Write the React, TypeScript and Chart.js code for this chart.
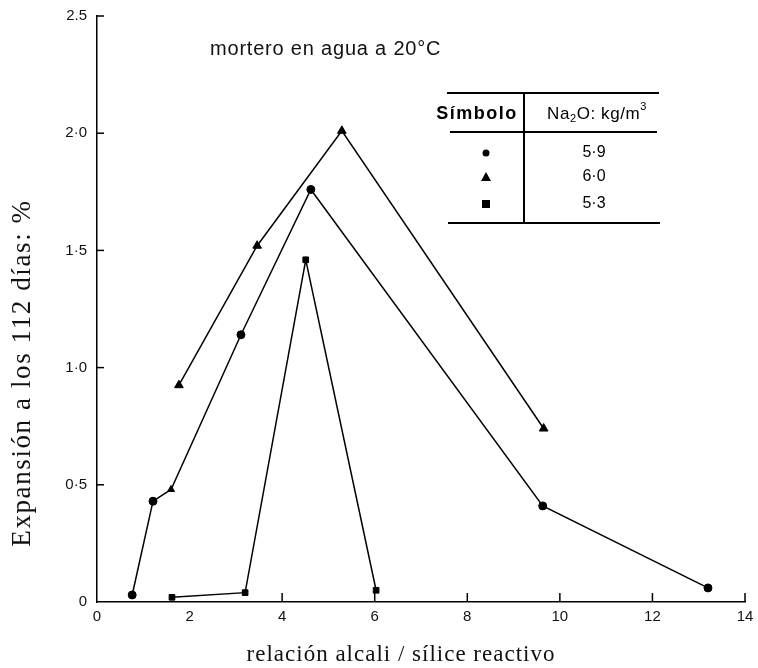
import React, { useEffect, useRef } from "react";
import { Chart, registerables } from "chart.js";

Chart.register(...registerables);

// Na2O 5·9 kg/m3 (circles)
const xCircle = [0.76, 1.21, 1.6, 3.11, 4.62, 9.63, 13.2];
const yCircle = [0.03, 0.43, 0.48, 1.14, 1.76, 0.41, 0.06];
const styleCircle = ["circle", "circle", "triangle", "circle", "circle", "circle", "circle"];
// Na2O 6·0 kg/m3 (triangles)
const xTriangle = [1.77, 3.46, 5.29, 9.65];
const yTriangle = [0.925, 1.52, 2.01, 0.74];
// Na2O 5·3 kg/m3 (squares)
const xSquare = [1.62, 3.2, 4.51, 6.03];
const ySquare = [0.02, 0.04, 1.46, 0.05];

const yTickLabels: Record<string, string> = { "0": "0", "0.5": "0·5", "1": "1·0", "1.5": "1·5", "2": "2·0", "2.5": "2.5" };
const xInnerTicks = [4, 6, 8, 10, 12, 14];
const yInnerTicks = [0.5, 1, 1.5, 2, 2.5];

const legendSymbols = ["circle", "triangle", "rect"];
const legendValues = ["5·9", "6·0", "5·3"];

const annotationText = "mortero en agua a 20°C";
const xTitle = "relación alcali / sílice reactivo";
const yTitle = "Expansión a los 112 días: %";

const toPoints = (xs: number[], ys: number[]) => xs.map((x, i) => ({ x, y: ys[i] }));

const SANS = "'Liberation Sans', Arial, sans-serif";
const SERIF = "'Liberation Serif', 'Times New Roman', serif";

const extrasPlugin = {
  id: "extras",
  afterDraw(chart: any) {
    const ctx = chart.ctx as CanvasRenderingContext2D;
    const xs = chart.scales.x;
    const ys = chart.scales.y;
    const area = chart.chartArea;
    ctx.save();
    ctx.strokeStyle = "#000";
    ctx.lineWidth = 1.5;
    // inner ticks
    yInnerTicks.forEach((v) => {
      const py = ys.getPixelForValue(v);
      ctx.beginPath();
      ctx.moveTo(area.left, py);
      ctx.lineTo(area.left + 7, py);
      ctx.stroke();
    });
    xInnerTicks.forEach((v) => {
      const px = xs.getPixelForValue(v);
      ctx.beginPath();
      ctx.moveTo(px, area.bottom);
      ctx.lineTo(px, area.bottom - 9);
      ctx.stroke();
    });

    // annotation
    ctx.fillStyle = "#111";
    ctx.font = `20px ${SANS}`;
    (ctx as any).letterSpacing = "0.8px";
    ctx.textAlign = "left";
    ctx.textBaseline = "middle";
    ctx.fillText(annotationText, 210, 49);

    // x title
    ctx.font = `23px ${SERIF}`;
    (ctx as any).letterSpacing = "1px";
    ctx.textAlign = "center";
    ctx.fillText(xTitle, 401, 655);

    // y title
    ctx.save();
    ctx.translate(23, 373);
    ctx.rotate(-Math.PI / 2);
    ctx.font = `27px ${SERIF}`;
    (ctx as any).letterSpacing = "1.6px";
    ctx.textAlign = "center";
    ctx.textBaseline = "middle";
    ctx.fillStyle = "#111";
    ctx.fillText(yTitle, 0, 0);
    ctx.restore();

    // legend table
    ctx.lineWidth = 2;
    const hline = (x1: number, x2: number, y: number) => {
      ctx.beginPath();
      ctx.moveTo(x1, y);
      ctx.lineTo(x2, y);
      ctx.stroke();
    };
    hline(447, 659, 93);
    hline(450, 657, 132);
    hline(448, 660, 223);
    ctx.beginPath();
    ctx.moveTo(524, 93);
    ctx.lineTo(524, 223);
    ctx.stroke();

    ctx.fillStyle = "#000";
    ctx.textBaseline = "middle";
    ctx.textAlign = "center";
    ctx.font = `bold 18px ${SANS}`;
    (ctx as any).letterSpacing = "1.5px";
    ctx.fillText("Símbolo", 477, 114);

    (ctx as any).letterSpacing = "0.6px";
    ctx.textAlign = "left";
    let x0 = 547;
    ctx.font = `17px ${SANS}`;
    ctx.fillText("Na", x0, 114);
    x0 += ctx.measureText("Na").width;
    ctx.font = `11px ${SANS}`;
    ctx.fillText("2", x0, 119);
    x0 += ctx.measureText("2").width;
    ctx.font = `17px ${SANS}`;
    ctx.fillText("O: kg/m", x0, 114);
    x0 += ctx.measureText("O: kg/m").width;
    ctx.font = `11px ${SANS}`;
    ctx.fillText("3", x0, 107);

    const rowY = [153, 177, 204];
    ctx.font = `16px ${SANS}`;
    (ctx as any).letterSpacing = "0px";
    ctx.textAlign = "center";
    legendSymbols.forEach((s, i) => {
      const cx = 486;
      const cy = rowY[i];
      ctx.beginPath();
      if (s === "circle") {
        ctx.arc(cx, cy, 3.5, 0, Math.PI * 2);
      } else if (s === "triangle") {
        ctx.moveTo(cx, cy - 5);
        ctx.lineTo(cx + 5, cy + 4);
        ctx.lineTo(cx - 5, cy + 4);
        ctx.closePath();
      } else {
        ctx.rect(cx - 4, cy - 4, 8, 8);
      }
      ctx.fill();
      ctx.fillText(legendValues[i], 594, cy);
    });
    ctx.restore();
  },
};

export default function App() {
  const ref = useRef<HTMLCanvasElement | null>(null);
  useEffect(() => {
    if (!ref.current) return;
    const ds = (data: any[], pointStyle: any, radius: number) => ({
      data,
      borderColor: "#000",
      backgroundColor: "#000",
      borderWidth: 1.5,
      pointStyle,
      pointRadius: radius,
      pointBorderWidth: 1,
      pointBackgroundColor: "#000",
      pointBorderColor: "#000",
      tension: 0,
      fill: false,
    });
    const chart = new Chart(ref.current, {
      type: "line",
      data: {
        datasets: [
          { label: "5·9", ...ds(toPoints(xCircle, yCircle), styleCircle, 4) },
          { label: "6·0", ...ds(toPoints(xTriangle, yTriangle), "triangle", 5) },
          { label: "5·3", ...ds(toPoints(xSquare, ySquare), "rect", 4) },
        ],
      },
      options: {
        animation: false,
        responsive: false,
        layout: { padding: { left: 0, top: 16, right: 13, bottom: 0 } },
        plugins: { legend: { display: false }, tooltip: { enabled: false } },
        scales: {
          x: {
            type: "linear",
            min: 0,
            max: 14,
            grid: { display: false, drawTicks: false },
            border: { display: true, color: "#000", width: 1.5 },
            ticks: {
              stepSize: 2,
              padding: 6,
              color: "#111",
              font: { family: SANS, size: 15 },
              maxRotation: 0,
            },
            afterFit: (s: any) => {
              s.height = 66;
              s.paddingLeft = 0;
              s.paddingRight = 0;
            },
          },
          y: {
            type: "linear",
            min: 0,
            max: 2.5,
            grid: { display: false, drawTicks: false },
            border: { display: true, color: "#000", width: 1.5 },
            ticks: {
              stepSize: 0.5,
              padding: 10,
              color: "#111",
              font: { family: SANS, size: 15 },
              callback: (v: any) => yTickLabels[String(v)] ?? String(v),
            },
            afterFit: (s: any) => {
              s.width = 97;
              s.paddingTop = 0;
              s.paddingBottom = 0;
            },
          },
        },
      },
      plugins: [extrasPlugin],
    });
    return () => chart.destroy();
  }, []);
  return (
    <div style={{ position: "absolute", left: 0, top: 0, width: 758, height: 668, background: "#fff" }}>
      <canvas ref={ref} width={758} height={668} />
    </div>
  );
}
